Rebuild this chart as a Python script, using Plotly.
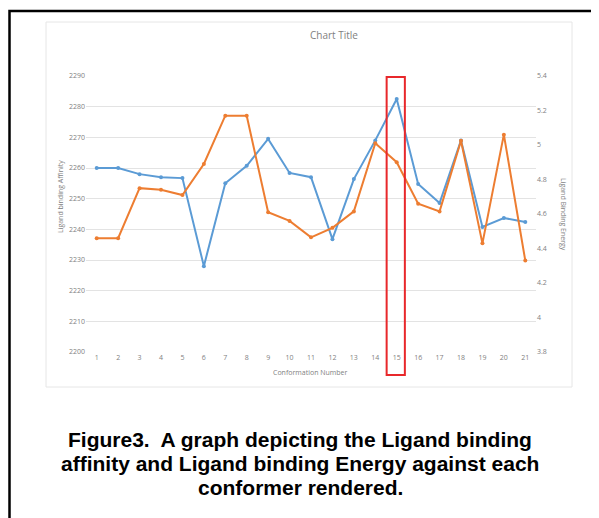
import plotly.graph_objects as go

conformers = list(range(1, 22))
affinity = [2260, 2260, 2258, 2257, 2256.7, 2228, 2255, 2260.7, 2269.5, 2258.4, 2257,
            2236.8, 2256.4, 2269, 2282.5, 2254.8, 2248.6, 2269, 2240.8, 2243.7, 2242.4]
energy = [4.46, 4.46, 4.75, 4.74, 4.71, 4.89, 5.17, 5.17, 4.61, 4.56, 4.465,
          4.52, 4.615, 5.01, 4.90, 4.66, 4.615, 5.025, 4.43, 5.06, 4.33]
left_ticks = [2200, 2210, 2220, 2230, 2240, 2250, 2260, 2270, 2280, 2290]
right_ticks = [3.8, 4.0, 4.2, 4.4, 4.6, 4.8, 5.0, 5.2, 5.4]
right_labels = ["3.8", "4", "4.2", "4.4", "4.6", "4.8", "5", "5.2", "5.4"]
highlight = 15
caption = ["Figure3.  A graph depicting the Ligand binding",
           "affinity and Ligand binding Energy against each",
           "conformer rendered."]

OFF = 8  # browser body margin
W, H = 599 - OFF, 518 - OFF
L, R, T, B = 86, 536, 76, 352  # screen pixel coordinates of plot area


def px(x):
    return (x - L) / (R - L)


def py(y):
    return (B - y) / (B - T)


tickfont = dict(family="Open Sans", size=7, color="#7f7f7f")

fig = go.Figure()
fig.add_trace(go.Scatter(x=conformers, y=affinity, mode="lines+markers",
                         line=dict(color="#5B9BD5", width=2),
                         marker=dict(size=4, color="#5B9BD5"),
                         name="Ligand binding Affinity", yaxis="y"))
fig.add_trace(go.Scatter(x=conformers, y=energy, mode="lines+markers",
                         line=dict(color="#ED7D31", width=2),
                         marker=dict(size=4, color="#ED7D31"),
                         name="Ligand Binding Energy", yaxis="y2"))

fig.update_layout(
    width=W, height=H,
    margin=dict(l=L - OFF, r=599 - R, t=T - OFF, b=518 - B),
    paper_bgcolor="white", plot_bgcolor="white",
    showlegend=False,
    xaxis=dict(range=[0.5, 21.5], tickmode="array", tickvals=conformers,
               ticktext=[str(c) for c in conformers], tickfont=tickfont,
               showgrid=False, zeroline=False, showline=False, ticks=""),
    yaxis=dict(range=[2200, 2290], tickmode="array", tickvals=left_ticks,
               ticktext=[str(v) for v in left_ticks], tickfont=tickfont,
               showgrid=True, gridcolor="#e3e3e3", gridwidth=1,
               zeroline=False, showline=False, ticks=""),
    yaxis2=dict(range=[3.8, 5.4], overlaying="y", side="right",
                tickmode="array", tickvals=right_ticks, ticktext=right_labels,
                tickfont=tickfont, showgrid=False, zeroline=False,
                showline=False, ticks=""),
)

shapes = [
    # outer black frame
    dict(type="rect", xref="paper", yref="paper",
         x0=px(9.5), x1=px(620), y0=py(540), y1=py(11),
         line=dict(color="black", width=2.5), layer="below"),
    # chart area border
    dict(type="rect", xref="paper", yref="paper",
         x0=px(46), x1=px(572), y0=py(387), y1=py(22),
         line=dict(color="#e6e6e6", width=1), layer="below"),
    # highlight box around conformer 15
    dict(type="rect", xref="x", yref="paper",
         x0=highlight - 0.47, x1=highlight + 0.38, y0=py(375), y1=py(77),
         line=dict(color="#E8282B", width=2)),
]
fig.update_layout(shapes=shapes)

ann = [
    dict(text="Chart Title", x=px(334), y=py(35), font=dict(family="Open Sans", size=10, color="#7f7f7f")),
    dict(text="Conformation Number", x=px(310), y=py(372), font=dict(family="Open Sans", size=7, color="#7f7f7f")),
    dict(text="Ligand binding Affinity", x=px(60), y=py(197), textangle=-90,
         font=dict(family="Open Sans", size=7, color="#7f7f7f")),
    dict(text="Ligand Binding Energy", x=px(564), y=py(214), textangle=90,
         font=dict(family="Open Sans", size=7, color="#7f7f7f")),
]
centers = [(300, 439), (300, 463), (300, 487)]
for line, (cx, cy) in zip(caption, centers):
    ann.append(dict(text="<b>" + line + "</b>", x=px(cx), y=py(cy),
                    font=dict(family="Liberation Sans", size=21, color="black")))
for a in ann:
    a.update(xref="paper", yref="paper", showarrow=False, xanchor="center", yanchor="middle")
fig.update_layout(annotations=ann)

fig.write_html("out.html")
